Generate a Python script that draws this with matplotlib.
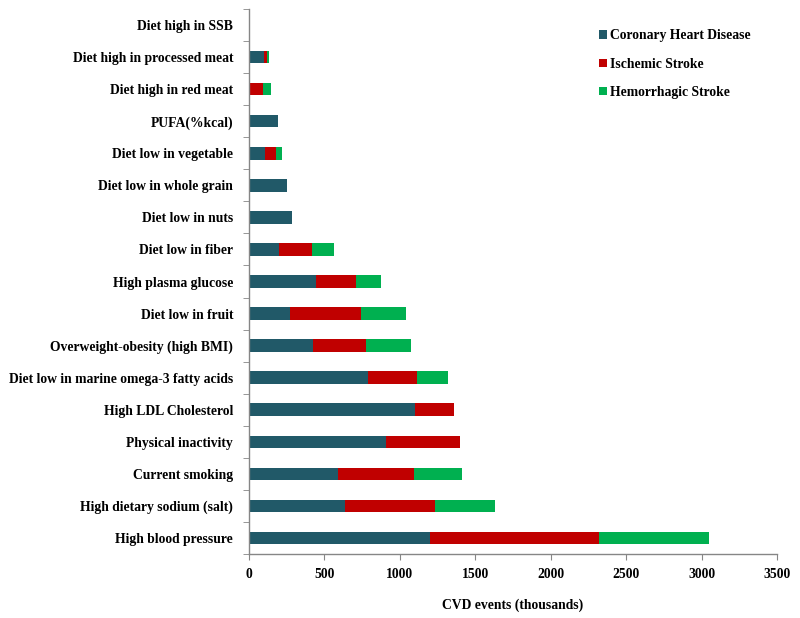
import matplotlib
matplotlib.use("Agg")
import matplotlib.pyplot as plt
from matplotlib.patches import Patch
import numpy as np

categories = [
    "High blood pressure",
    "High dietary sodium (salt)",
    "Current smoking",
    "Physical inactivity",
    "High LDL Cholesterol",
    "Diet low in marine omega-3 fatty acids",
    "Overweight-obesity (high BMI)",
    "Diet low in fruit",
    "High plasma glucose",
    "Diet low in fiber",
    "Diet low in nuts",
    "Diet low in whole grain",
    "Diet low in vegetable",
    "PUFA(%kcal)",
    "Diet high in red meat",
    "Diet high in processed meat",
    "Diet high in SSB",
]
chd = [1199, 636, 592, 905, 1102, 788, 424, 270, 444, 199, 285, 250, 108, 190, 0, 97, 7]
ischemic = [1118, 600, 499, 492, 256, 323, 353, 474, 265, 218, 0, 0, 69, 0, 93, 25, 0]
hemorrhagic = [729, 396, 318, 0, 0, 207, 300, 298, 165, 144, 0, 0, 44, 0, 55, 8, 0]

series_names = ["Coronary Heart Disease", "Ischemic Stroke", "Hemorrhagic Stroke"]
colors = ["#215968", "#C00000", "#00B050"]
xticks = [0, 500, 1000, 1500, 2000, 2500, 3000, 3500]

plt.rcParams["font.family"] = ["Liberation Serif", "DejaVu Serif"]
plt.rcParams["font.weight"] = "bold"

fig = plt.figure(figsize=(8.0, 6.18), dpi=100)
ax = fig.add_axes([249 / 800, 1 - 554 / 618, (777 - 249) / 800, (554 - 9) / 618])

y = np.arange(len(categories))
left = np.zeros(len(categories))
for vals, c, name in zip([chd, ischemic, hemorrhagic], colors, series_names):
    v = np.array(vals, dtype=float)
    ax.barh(y, v, left=left, height=0.39, color=c, label=name)
    left += v

ax.set_xlim(0, 3500)
ax.set_ylim(-0.5, len(categories) - 0.5)
ax.set_xticks(xticks)
ax.set_xticklabels([str(t) for t in xticks], fontsize=9.8, fontweight="bold")
ax.set_yticks(y)
ax.set_yticklabels(categories, fontsize=9.8, fontweight="bold")
ax.tick_params(axis="y", length=0, pad=11.5)
ax.set_yticks(np.arange(-0.5, len(categories), 1.0), minor=True)
ax.tick_params(axis="y", which="minor", length=4, color="#868686", direction="out")
ax.tick_params(axis="x", length=4, color="#868686", direction="out", pad=6)

for s in ["top", "right"]:
    ax.spines[s].set_visible(False)
for s in ["left", "bottom"]:
    ax.spines[s].set_color("#868686")
    ax.spines[s].set_linewidth(1.0)

ax.set_xlabel("CVD events (thousands)", fontsize=9.8, fontweight="bold", labelpad=13)

handles = [Patch(facecolor=c, label=n) for c, n in zip(colors, series_names)]
leg = ax.legend(handles=handles, loc="upper left", bbox_to_anchor=(587 / 800, 1 - 17 / 618),
                bbox_transform=fig.transFigure, frameon=False, fontsize=9.8,
                handlelength=0.55, handleheight=0.55, handletextpad=0.25, labelspacing=1.13)
for t in leg.get_texts():
    t.set_fontweight("bold")

fig.savefig("out.png", dpi=100)
